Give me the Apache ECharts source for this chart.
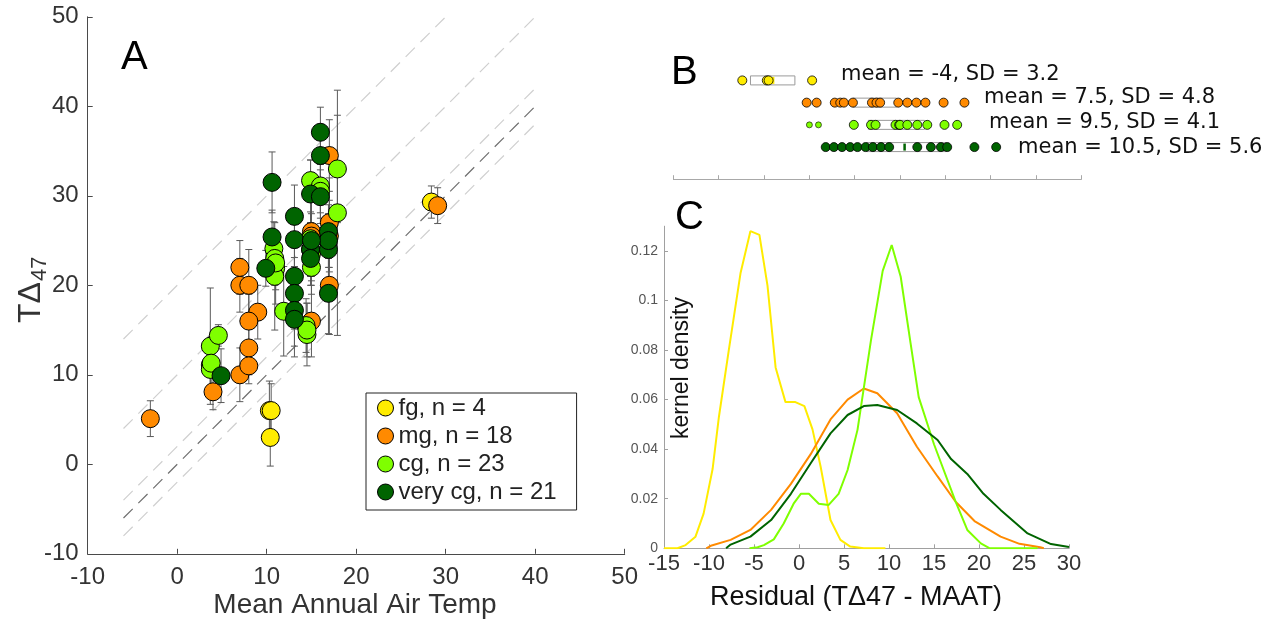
<!DOCTYPE html>
<html><head><meta charset="utf-8">
<script src="https://cdn.jsdelivr.net/npm/echarts@6/dist/echarts.min.js"></script>
<style>html,body{margin:0;padding:0;background:#fff}#c{width:1271px;height:630px}</style>
</head><body><div id="c"></div>
<script>
// ---------------- Panel A data (MAAT vs TΔ47, with ±error) ----------------
const groupNames = ['fg, n = 4', 'mg, n = 18', 'cg, n = 23', 'very cg, n = 21'];
const fgX   = [10.3, 10.5, 10.4, 28.4];
const fgY   = [6.0, 6.0, 3.0, 29.3];
const fgErr = [3.3, 3.0, 3.2, 1.8];
const mgX   = [-3.0, 4.0, 7.0, 7.0, 7.0, 8.0, 9.0, 8.0, 8.0, 8.0, 15.0, 15.0, 17.0, 17.0, 17.0, 29.1, 15.0, 17.0];
const mgY   = [5.1, 8.1, 10.0, 20.0, 22.0, 20.0, 17.0, 16.0, 13.0, 11.0, 26.0, 16.0, 34.5, 27.0, 20.0, 28.9, 25.5, 25.5];
const mgErr = [2.0, 2.0, 3.0, 3.0, 3.0, 4.0, 3.0, 3.0, 3.0, 2.0, 5.0, 4.0, 4.0, 5.0, 5.5, 2.0, 4.0, 4.0];
const cgX   = [3.7, 4.6, 3.7, 3.7, 10.8, 10.9, 11.0, 10.9, 11.9, 14.9, 14.9, 15.0, 14.4, 14.5, 14.9, 16.0, 17.9, 17.9, 11.0, 15.0, 3.8, 16.0, 14.5];
const cgY   = [13.2, 14.4, 11.1, 10.6, 24.1, 23.0, 21.9, 21.0, 17.1, 25.2, 24.0, 22.0, 15.5, 14.5, 31.7, 31.1, 33.0, 28.1, 22.5, 23.5, 11.3, 30.5, 15.0];
const cgErr = [6.5, 1.2, 3.0, 3.0, 3.0, 3.0, 4.0, 6.0, 5.0, 3.0, 3.0, 3.0, 3.0, 3.5, 2.3, 3.0, 6.0, 13.7, 3.0, 3.0, 3.0, 3.0, 3.0];
const vcgX  = [16.0, 16.0, 10.6, 14.9, 16.0, 13.1, 10.6, 13.1, 9.9, 13.1, 13.1, 13.1, 13.1, 14.9, 14.9, 16.9, 16.9, 16.9, 4.9, 16.9, 15.0];
const vcgY  = [37.1, 34.5, 31.5, 30.2, 29.9, 27.7, 25.4, 25.1, 21.9, 21.0, 19.1, 17.2, 16.2, 24.0, 23.0, 26.0, 24.0, 19.1, 9.9, 25.0, 25.0];
const vcgErr= [2.8, 3.0, 3.4, 3.8, 3.0, 3.5, 3.0, 3.0, 2.0, 4.0, 4.0, 4.0, 4.2, 3.0, 3.0, 3.0, 3.5, 4.5, 3.0, 3.0, 3.0];
const refLineOffsets = [20, 10, 2, 0, -2];   // y = x + offset
const refLineXRange = [-6, 40];
const aTicks = [-10, 50, 10];                 // min, max, interval

// ---------------- Panel B data (residuals, box stats) ----------------
const rowNames = ['fg', 'mg', 'cg', 'very cg'];
const fgRes  = [-7.4, -4.7, -4.5, 0.3];
const mgRes  = [-0.3, 0.8, 2.8, 3.4, 3.8, 4.8, 6.9, 7.4, 7.8, 9.8, 10.8, 11.8, 12.8, 14.8, 17.1];
const cgResSmall = [0.0, 1.0];
const cgRes  = [4.9, 6.8, 7.3, 9.5, 9.9, 10.0, 10.8, 11.9, 13.0, 14.9, 16.3];
const vcgRes = [1.8, 2.7, 3.6, 4.5, 5.3, 6.2, 7.0, 7.9, 8.8, 11.9, 13.4, 14.5, 15.2, 18.2, 20.6];
const boxQ1  = [-6.5, 4.8, 6.5, 6.3];
const boxMed = [-4.0, 7.4, 9.6, 10.5];
const boxQ3  = [-1.6, 9.6, 12.7, 15.1];
const statText = ['mean = -4, SD = 3.2', 'mean = 7.5, SD = 4.8', 'mean = 9.5, SD = 4.1', 'mean = 10.5, SD = 5.6'];

// ---------------- Panel C data (kernel density of residuals) ----------------
const fgKdeX  = [-15, -13.5, -12.6, -11.5, -10.6, -9.6, -8.9, -7.8, -6.5, -5.4, -4.4, -3.5, -2.6, -1.5, -0.4, 0.6, 1.5, 2.4, 3.5, 4.6, 5.7, 7.2, 9.6];
const fgKdeY  = [0, 0, 0.0013, 0.0047, 0.014, 0.032, 0.053, 0.080, 0.111, 0.128, 0.1265, 0.106, 0.073, 0.059, 0.059, 0.0574, 0.048, 0.033, 0.0114, 0.0034, 0.0007, 0, 0];
const mgKdeX  = [-10.3, -9.8, -7.6, -5.4, -3.1, -0.9, 1.3, 3.5, 5.4, 7.2, 8.7, 10.9, 13.1, 15.4, 17.4, 19.5, 22.4, 24.5, 26.8, 27.2];
const mgKdeY  = [0, 0.001, 0.0034, 0.0074, 0.0155, 0.026, 0.038, 0.052, 0.060, 0.0645, 0.0626, 0.0545, 0.041, 0.029, 0.0188, 0.011, 0.0047, 0.0018, 0.0004, 0];
const cgKdeX  = [-5.5, -4.6, -3.9, -2.8, -1.7, -0.6, 0.2, 1.1, 2.2, 3.3, 4.4, 5.4, 6.5, 8.0, 9.3, 10.3, 11.3, 12.4, 13.3, 15.0, 17.4, 18.7, 20.2, 21.2, 26.5];
const cgKdeY  = [0, 0.0004, 0.0013, 0.0036, 0.010, 0.018, 0.022, 0.022, 0.018, 0.0175, 0.022, 0.0316, 0.0478, 0.084, 0.112, 0.1224, 0.1096, 0.0827, 0.061, 0.042, 0.0188, 0.0074, 0.002, 0, 0];
const vcgKdeX = [-8.1, -7.6, -5.4, -3.1, -0.9, 1.3, 3.5, 5.4, 7.2, 8.7, 10.9, 13.1, 15.4, 16.9, 18.7, 20.5, 22.4, 25.4, 28.0, 30];
const vcgKdeY = [0, 0.0015, 0.0047, 0.0114, 0.022, 0.0343, 0.0464, 0.0538, 0.0574, 0.0578, 0.0558, 0.0504, 0.0437, 0.036, 0.030, 0.022, 0.0155, 0.006, 0.0017, 0.0005];
const cYTicks = [0, 0.02, 0.04, 0.06, 0.08, 0.1, 0.12];

// ---------------- styling ----------------
const COLORS = ['#ffec00', '#ff8a00', '#7fff00', '#006400'];
const SANS = 'Liberation Sans, Arial, Helvetica, sans-serif';
const DEJA = 'DejaVu Sans, sans-serif';

const chart = echarts.init(document.getElementById('c'), null, {renderer: 'canvas'});

const zip = (a, b) => a.map((v, i) => [v, b[i]]);

function errorBars(xs, ys, es) {
  return {
    type: 'custom', xAxisIndex: 0, yAxisIndex: 0, silent: true, z: 2,
    encode: {x: 0, y: [1, 2]},
    data: xs.map((x, i) => [x, ys[i] - es[i], ys[i] + es[i]]),
    renderItem(params, api) {
      const lo = api.coord([api.value(0), api.value(1)]);
      const hi = api.coord([api.value(0), api.value(2)]);
      const w = 3.5, st = {stroke: '#5a5a5a', lineWidth: 1};
      return {type: 'group', children: [
        {type: 'line', shape: {x1: lo[0], y1: lo[1], x2: hi[0], y2: hi[1]}, style: st},
        {type: 'line', shape: {x1: lo[0] - w, y1: lo[1], x2: lo[0] + w, y2: lo[1]}, style: st},
        {type: 'line', shape: {x1: hi[0] - w, y1: hi[1], x2: hi[0] + w, y2: hi[1]}, style: st}
      ]};
    }
  };
}

const groupsA = [[fgX, fgY, fgErr], [mgX, mgY, mgErr], [cgX, cgY, cgErr], [vcgX, vcgY, vcgErr]];
const groupsRes = [fgRes, mgRes, cgRes, vcgRes];
const groupsKde = [[fgKdeX, fgKdeY], [mgKdeX, mgKdeY], [cgKdeX, cgKdeY], [vcgKdeX, vcgKdeY]];

const series = [];
refLineOffsets.forEach(off => {
  series.push({
    type: 'line', xAxisIndex: 0, yAxisIndex: 0, silent: true, symbol: 'none', z: 1,
    data: refLineXRange.map(x => [x, x + off]),
    lineStyle: {color: off === 0 ? '#6e6e6e' : '#cfcfcf', width: 1.2, type: [13, 8]}
  });
});
groupsA.forEach(g => series.push(errorBars(g[0], g[1], g[2])));
groupsA.forEach((g, i) => series.push({
  type: 'scatter', name: groupNames[i], xAxisIndex: 0, yAxisIndex: 0, z: 3,
  symbol: 'circle', symbolSize: 18, data: zip(g[0], g[1]),
  itemStyle: {color: COLORS[i], borderColor: '#000', borderWidth: 1, opacity: 1}
}));
series.push({
  type: 'custom', xAxisIndex: 1, yAxisIndex: 1, silent: true, z: 2,
  data: boxQ1.map((q, i) => [q, boxMed[i], boxQ3[i], i]),
  renderItem(params, api) {
    const r = api.value(3);
    const a = api.coord([api.value(0), r]);
    const b = api.coord([api.value(2), r]);
    const m = api.coord([api.value(1), r]);
    const h = 9;
    return {type: 'group', children: [
      {type: 'rect', shape: {x: a[0], y: a[1] - h / 2, width: b[0] - a[0], height: h}, style: {fill: '#fff', stroke: '#9a9a9a', lineWidth: 1}},
      {type: 'line', shape: {x1: m[0], y1: a[1] - h / 2 + 1, x2: m[0], y2: a[1] + h / 2 - 1}, style: {stroke: COLORS[params.dataIndex], lineWidth: 2.5}}
    ]};
  }
});
groupsRes.forEach((res, i) => series.push({
  type: 'scatter', xAxisIndex: 1, yAxisIndex: 1, z: 3, silent: true,
  symbolSize: 9, data: res.map(v => [v, i]),
  itemStyle: {color: COLORS[i], borderColor: '#000', borderWidth: 0.8, opacity: 1}
}));
series.push({
  type: 'scatter', xAxisIndex: 1, yAxisIndex: 1, z: 3, silent: true,
  symbolSize: 6, data: cgResSmall.map(v => [v, 2]),
  itemStyle: {color: COLORS[2], borderColor: '#000', borderWidth: 0.6, opacity: 1}
});
groupsKde.forEach((g, i) => series.push({
  type: 'line', xAxisIndex: 2, yAxisIndex: 2, silent: true, symbol: 'none', z: 2,
  data: zip(g[0], g[1]),
  lineStyle: {color: COLORS[i], width: 2}
}));

const option = {
  animation: false,
  backgroundColor: '#fff',
  grid: [
    {left: 87.7, top: 16.8, width: 537, height: 537},
    {left: 673.4, top: 69.3, width: 408, height: 88.9},
    {left: 664, top: 226.2, width: 405, height: 322.1}
  ],
  xAxis: [
    {gridIndex: 0, type: 'value', min: aTicks[0], max: aTicks[1], interval: aTicks[2],
     axisLine: {show: true, onZero: false, lineStyle: {color: '#4a4a4a', width: 1}},
     axisTick: {show: true, inside: true, length: 5, lineStyle: {color: '#4a4a4a'}},
     axisLabel: {fontSize: 24, color: '#333', margin: 12, fontFamily: SANS},
     splitLine: {show: false}},
    {gridIndex: 1, type: 'value', min: -15, max: 30, interval: 5, offset: 21,
     axisLine: {show: true, onZero: false, lineStyle: {color: '#a8a8a8', width: 1}},
     axisTick: {show: true, inside: true, length: 4, lineStyle: {color: '#a8a8a8'}},
     axisLabel: {show: false}, splitLine: {show: false}},
    {gridIndex: 2, type: 'value', min: -15, max: 30, interval: 5,
     axisLine: {show: true, onZero: false, lineStyle: {color: '#a0a0a0', width: 1}},
     axisTick: {show: true, inside: true, length: 4, lineStyle: {color: '#a0a0a0'}},
     axisLabel: {fontSize: 22, color: '#333', margin: 5, fontFamily: SANS},
     splitLine: {show: false}}
  ],
  yAxis: [
    {gridIndex: 0, type: 'value', min: aTicks[0], max: aTicks[1], interval: aTicks[2],
     axisLine: {show: true, onZero: false, lineStyle: {color: '#4a4a4a', width: 1}},
     axisTick: {show: true, inside: true, length: 5, lineStyle: {color: '#4a4a4a'}},
     axisLabel: {fontSize: 24, color: '#333', margin: 9, fontFamily: SANS},
     splitLine: {show: false}},
    {gridIndex: 1, type: 'category', data: rowNames, inverse: true, show: false},
    {gridIndex: 2, type: 'value', min: 0, max: 0.13,
     axisLine: {show: true, onZero: false, lineStyle: {color: '#a0a0a0', width: 1}},
     axisTick: {show: true, inside: true, length: 4, customValues: cYTicks, lineStyle: {color: '#a0a0a0'}},
     axisLabel: {fontSize: 14, color: '#555', margin: 6, fontFamily: SANS, customValues: cYTicks},
     splitLine: {show: false}}
  ],
  legend: {
    data: groupNames, orient: 'vertical', left: 366, top: 393,
    icon: 'circle', itemWidth: 16, itemHeight: 16, itemGap: 4,
    borderColor: '#222', borderWidth: 1, padding: [3, 20, 6, 11],
    itemStyle: {borderColor: '#000', borderWidth: 1},
    textStyle: {fontSize: 24, lineHeight: 24, color: '#222', fontFamily: SANS}
  },
  graphic: [
    {type: 'text', left: 121, top: 38, style: {text: 'A', fontSize: 40, fill: '#000', fontFamily: SANS}},
    {type: 'text', left: 671, top: 53, style: {text: 'B', fontSize: 40, fill: '#000', fontFamily: SANS}},
    {type: 'text', left: 675, top: 198, style: {text: 'C', fontSize: 40, fill: '#000', fontFamily: SANS}},
    {type: 'group', x: 31, y: 323, rotation: Math.PI / 2, children: [
      {type: 'text', x: 0, y: 0, style: {text: 'TΔ', fontSize: 32, fill: '#333', fontFamily: SANS, textAlign: 'left', textVerticalAlign: 'middle'}},
      {type: 'text', x: 42, y: 9, style: {text: '47', fontSize: 22, fill: '#333', fontFamily: SANS, textAlign: 'left', textVerticalAlign: 'middle'}}
    ]},
    {type: 'text', x: 355, y: 605, style: {text: 'Mean Annual Air Temp', fontSize: 28, fill: '#333', fontFamily: SANS, textAlign: 'center', textVerticalAlign: 'middle'}},
    {type: 'text', x: 856, y: 598, style: {text: 'Residual (TΔ47 - MAAT)', fontSize: 27, fill: '#111', fontFamily: SANS, textAlign: 'center', textVerticalAlign: 'middle'}},
    {type: 'text', x: 682, y: 368, rotation: Math.PI / 2, style: {text: 'kernel density', fontSize: 23, fill: '#111', fontFamily: SANS, textAlign: 'center', textVerticalAlign: 'middle'}},
    {type: 'text', x: 841, y: 75, style: {text: statText[0], fontSize: 21, fill: '#111', fontFamily: DEJA, textAlign: 'left', textVerticalAlign: 'middle'}},
    {type: 'text', x: 984, y: 98, style: {text: statText[1], fontSize: 21, fill: '#111', fontFamily: DEJA, textAlign: 'left', textVerticalAlign: 'middle'}},
    {type: 'text', x: 989, y: 123, style: {text: statText[2], fontSize: 21, fill: '#111', fontFamily: DEJA, textAlign: 'left', textVerticalAlign: 'middle'}},
    {type: 'text', x: 1018, y: 148, style: {text: statText[3], fontSize: 21, fill: '#111', fontFamily: DEJA, textAlign: 'left', textVerticalAlign: 'middle'}}
  ],
  series: series
};
chart.setOption(option);
</script></body></html>
